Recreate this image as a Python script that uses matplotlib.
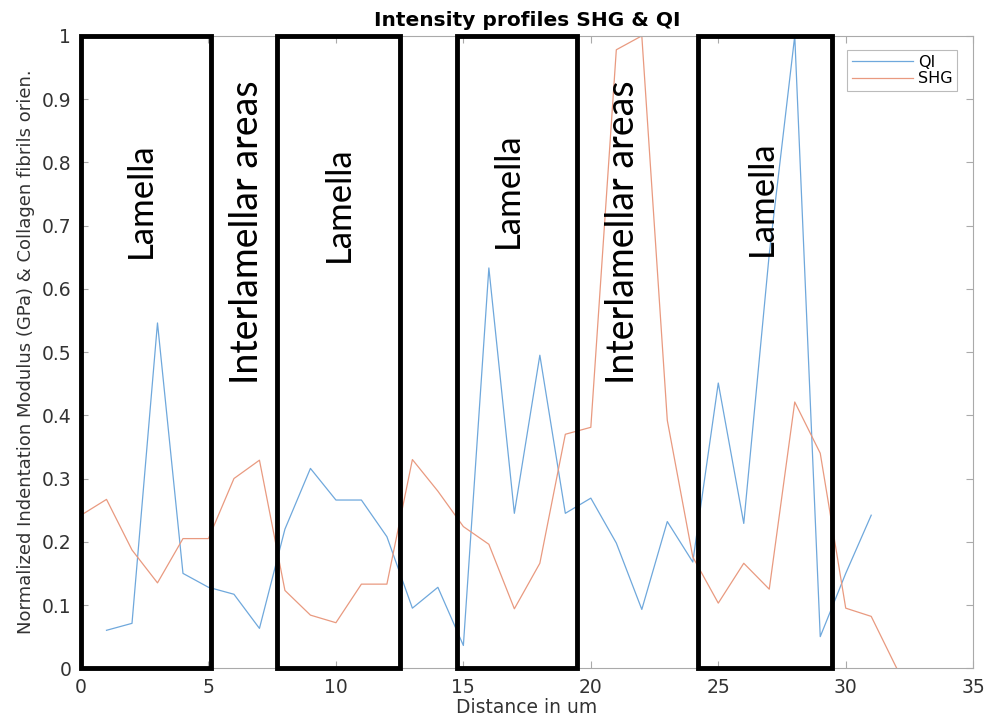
import matplotlib
matplotlib.use("Agg")
import matplotlib.pyplot as plt
from matplotlib.patches import Rectangle

# Intensity profiles along the scan line (distance in um)
qi_x = list(range(1, 32))
qi_y = [0.060, 0.071, 0.546, 0.150, 0.128, 0.117, 0.063, 0.220, 0.316, 0.266,
        0.266, 0.208, 0.095, 0.128, 0.036, 0.633, 0.245, 0.495, 0.245, 0.269,
        0.198, 0.093, 0.232, 0.168, 0.451, 0.229, 0.655, 1.000, 0.050, 0.150,
        0.242]

shg_x = list(range(0, 33))
shg_y = [0.242, 0.267, 0.187, 0.135, 0.205, 0.205, 0.300, 0.329, 0.123, 0.084,
         0.072, 0.133, 0.133, 0.330, 0.280, 0.224, 0.196, 0.094, 0.166, 0.370,
         0.381, 0.978, 1.000, 0.392, 0.176, 0.103, 0.166, 0.125, 0.421, 0.340,
         0.095, 0.082, 0.000]

# Lamella regions (start, end) in um
lamella_regions = [(0.0, 5.1), (7.7, 12.5), (14.75, 19.45), (24.2, 29.45)]

# Region labels: (text, x, y)
region_labels = [
    ("Lamella", 2.35, 0.74),
    ("Interlamellar areas", 6.5, 0.69),
    ("Lamella", 10.1, 0.734),
    ("Lamella", 16.75, 0.756),
    ("Interlamellar areas", 21.25, 0.69),
    ("Lamella", 26.7, 0.744),
]

xticks = [0, 5, 10, 15, 20, 25, 30, 35]
yticks = [0, 0.1, 0.2, 0.3, 0.4, 0.5, 0.6, 0.7, 0.8, 0.9, 1]
ytick_labels = ["0", "0.1", "0.2", "0.3", "0.4", "0.5", "0.6", "0.7", "0.8", "0.9", "1"]

plt.rcParams["font.family"] = ["DejaVu Sans"]

fig = plt.figure(figsize=(9.88, 7.17), dpi=100)
ax = fig.add_axes([0.082, 0.068, 0.903, 0.882])

ax.plot(qi_x, qi_y, color="#6fa8dc", lw=0.9, label="QI")
ax.plot(shg_x, shg_y, color="#e99a80", lw=0.9, label="SHG")

ax.set_xlim(0, 35)
ax.set_ylim(0, 1)
ax.set_xticks(xticks)
ax.set_yticks(yticks)
ax.set_yticklabels(ytick_labels)

for side in ax.spines.values():
    side.set_color("#aaaaaa")
    side.set_linewidth(0.8)
ax.tick_params(direction="in", top=True, right=True, length=5, width=0.8,
               color="#aaaaaa", labelcolor="#333333", labelsize=13.5, pad=7)

for x0, x1 in lamella_regions:
    ax.add_patch(Rectangle((x0, 0), x1 - x0, 1, fill=False, ec="black",
                           lw=3.5, clip_on=False, zorder=5))

for text, x, y in region_labels:
    size = 27 if text.startswith("Inter") else 25
    ax.text(x, y, text, rotation=90, ha="center", va="center",
            fontsize=size, family=["Lato", "DejaVu Sans"], color="black",
            zorder=6)

ax.set_title("Intensity profiles SHG & QI", fontsize=14.5, fontweight="bold",
             pad=7)
ax.set_xlabel("Distance in um", fontsize=13.5, color="#333333", labelpad=1)
ax.set_ylabel("Normalized Indentation Modulus (GPa) & Collagen fibrils orien.",
              fontsize=13, color="#333333", labelpad=5)

leg = ax.legend(loc="upper right", bbox_to_anchor=(0.982, 0.978),
                borderaxespad=0, fontsize=11.5, handlelength=3.8,
                fancybox=False, borderpad=0.3, labelspacing=0.1,
                handletextpad=0.3)
leg.get_frame().set_edgecolor("#aaaaaa")
leg.get_frame().set_linewidth(0.8)

fig.savefig("out.png", dpi=100)
